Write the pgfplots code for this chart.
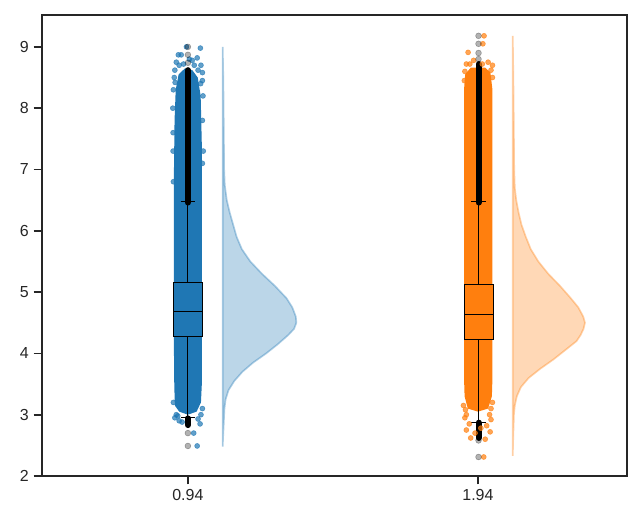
\documentclass[border=0pt]{standalone}
\usepackage{pgfplots}
\pgfplotsset{compat=1.18}
\usepackage{fontspec}
\setmainfont{Liberation Sans}
\definecolor{cblue}{HTML}{1F77B4}
\definecolor{corange}{HTML}{FF7F0E}
\definecolor{spine}{HTML}{262626}
\begin{document}
\begin{tikzpicture}
\path (-30.24pt,-36.7pt) rectangle (429.1pt,342.7pt);
\begin{axis}[
    at={(0,0)}, anchor=south west,
    scale only axis, width=421.2pt, height=331.9pt,
    xmin=0.437, xmax=2.454, ymin=2, ymax=9.52,
    xtick={0.94,1.94}, xticklabels={0.94,1.94},
    ytick={2,3,...,9},
    tick align=outside, major tick length=6pt,
    tick style={line width=1.25pt, color=spine},
    axis line style={line width=1.25pt, color=spine},
    xtick pos=bottom, ytick pos=left,
    ticklabel style={font=\fontsize{11.5}{13}\selectfont, color=spine},
    /pgf/number format/assume math mode=true,
    clip=true,
  ]
  % half violins
  \addplot[fill=cblue, fill opacity=0.3, draw=cblue, draw opacity=0.35, line width=1.2pt] coordinates {
    (1.06,9.00) (1.062,8.50) (1.063,8.00) (1.064,7.50) (1.065,7.00) (1.067,6.75)
    (1.074,6.50) (1.084,6.30) (1.096,6.10) (1.108,5.90) (1.126,5.70) (1.155,5.50)
    (1.195,5.30) (1.240,5.10) (1.280,4.90) (1.300,4.75) (1.312,4.60) (1.314,4.50)
    (1.306,4.40) (1.286,4.30) (1.250,4.15) (1.210,4.00) (1.165,3.85) (1.128,3.70)
    (1.100,3.55) (1.080,3.40) (1.070,3.25) (1.066,3.10) (1.064,2.90) (1.062,2.70)
    (1.06,2.48) (1.06,9.00)
  };
  \addplot[fill=corange, fill opacity=0.3, draw=corange, draw opacity=0.35, line width=1.2pt] coordinates {
    (2.06,9.18) (2.062,8.50) (2.063,8.00) (2.064,7.50) (2.065,7.00) (2.067,6.70)
    (2.072,6.50) (2.080,6.30) (2.090,6.10) (2.105,5.90) (2.122,5.70) (2.148,5.50)
    (2.182,5.30) (2.223,5.10) (2.260,4.90) (2.286,4.75) (2.303,4.60) (2.309,4.50)
    (2.304,4.40) (2.294,4.30) (2.280,4.20) (2.240,4.05) (2.200,3.90) (2.155,3.75)
    (2.115,3.60) (2.088,3.45) (2.074,3.30) (2.067,3.15) (2.064,3.00) (2.062,2.70)
    (2.06,2.33) (2.06,9.18)
  };
  % dense part of the strips
  \addplot[fill=cblue, draw=none] coordinates {
    (0.895,3.15) (0.893,3.5) (0.892,4.0) (0.892,7.0) (0.894,7.8) (0.898,8.3)
    (0.908,8.55) (0.93,8.65) (0.955,8.62) (0.974,8.5) (0.984,8.2) (0.988,7.4)
    (0.988,3.5) (0.985,3.2) (0.97,3.05) (0.94,3.0) (0.91,3.05) (0.895,3.15)
  };
  \addplot[fill=corange, draw=none] coordinates {
    (1.894,3.3) (1.892,3.6) (1.892,8.3) (1.896,8.55) (1.915,8.66) (1.965,8.66)
    (1.983,8.58) (1.99,8.3) (1.99,3.6) (1.988,3.3) (1.975,3.1) (1.94,3.05)
    (1.905,3.1) (1.894,3.3)
  };
  % sparse strip points
  \addplot[only marks, mark=*, mark size=1.8pt, color=cblue, mark options={draw opacity=0.7, fill opacity=0.7}] coordinates {
    (0.935,9.0) (0.983,8.98) (0.907,8.87) (0.917,8.87) (0.972,8.82) (0.90,8.75)
    (0.955,8.78) (0.985,8.7) (0.895,8.62) (0.91,8.7) (0.975,8.62) (0.99,8.58)
    (0.893,8.5) (0.99,8.45) (0.89,8.3) (0.992,8.2) (0.888,8.0) (0.99,7.8)
    (0.889,7.6) (0.993,7.3) (0.90,3.0) (0.985,3.0) (0.895,2.95) (0.975,2.93)
    (0.91,2.9) (0.982,2.85) (0.96,2.7) (0.972,2.49) (0.92,2.88) (0.99,3.1)
    (0.89,3.2) (0.905,2.98) (0.925,8.72) (0.962,8.7) (0.945,8.8) (0.984,8.4)
    (0.896,8.42) (0.99,7.1) (0.889,7.3) (0.89,6.8)
  };
  \addplot[only marks, mark=*, mark size=1.8pt, color=corange, mark options={draw opacity=0.7, fill opacity=0.7}] coordinates {
    (1.906,8.91) (1.961,9.18) (1.957,9.05) (1.975,8.75) (1.90,8.72) (1.925,8.78)
    (1.99,8.7) (1.895,8.6) (1.90,3.0) (1.98,3.0) (1.895,2.95) (1.985,2.92)
    (1.91,2.85) (1.97,2.82) (1.90,2.75) (1.982,2.72) (1.915,2.62) (1.965,2.6)
    (1.96,2.31) (1.93,2.7) (1.95,2.78) (1.89,3.15) (1.99,3.2) (1.897,3.08)
    (1.985,3.1) (1.912,8.72) (1.985,8.62) (1.955,8.72) (1.893,8.45) (1.99,8.5)
  };
  % boxes
  \addplot[fill=cblue, draw=black, line width=0.75pt] coordinates {
    (0.89,4.28) (0.99,4.28) (0.99,5.15) (0.89,5.15) (0.89,4.28)};
  \addplot[black, line width=0.75pt] coordinates {(0.89,4.69) (0.99,4.69)};
  \addplot[black, line width=0.75pt] coordinates {(0.94,5.15) (0.94,6.47)};
  \addplot[black, line width=0.75pt] coordinates {(0.94,4.28) (0.94,2.95)};
  \addplot[black, line width=0.75pt] coordinates {(0.915,6.47) (0.965,6.47)};
  \addplot[black, line width=0.75pt] coordinates {(0.915,2.95) (0.965,2.95)};
  \addplot[fill=corange, draw=black, line width=0.75pt] coordinates {
    (1.892,4.23) (1.992,4.23) (1.992,5.13) (1.892,5.13) (1.892,4.23)};
  \addplot[black, line width=0.75pt] coordinates {(1.892,4.64) (1.992,4.64)};
  \addplot[black, line width=0.75pt] coordinates {(1.942,5.13) (1.942,6.47)};
  \addplot[black, line width=0.75pt] coordinates {(1.942,4.23) (1.942,2.88)};
  \addplot[black, line width=0.75pt] coordinates {(1.917,6.47) (1.967,6.47)};
  \addplot[black, line width=0.75pt] coordinates {(1.917,2.88) (1.967,2.88)};
  % fliers: dense runs
  \addplot[black, line width=4.3pt, line cap=round] coordinates {(0.94,6.46) (0.94,8.62)};
  \addplot[black, line width=4.3pt, line cap=round] coordinates {(0.94,2.94) (0.94,2.83)};
  \addplot[black, line width=4.3pt, line cap=round] coordinates {(1.942,6.46) (1.942,8.72)};
  \addplot[black, line width=4.3pt, line cap=round] coordinates {(1.942,2.87) (1.942,2.62)};
  % fliers: isolated
  \addplot[only marks, mark=*, mark size=2.1pt, color=black, mark options={draw opacity=0.3, fill opacity=0.3}] coordinates {
    (0.94,9.0) (0.94,8.87) (0.94,8.74) (0.94,2.70) (0.94,2.49)
    (1.942,9.18) (1.942,9.05) (1.942,8.90) (1.942,8.80) (1.942,2.31) (1.942,2.58)
  };
\end{axis}
\end{tikzpicture}
\end{document}
